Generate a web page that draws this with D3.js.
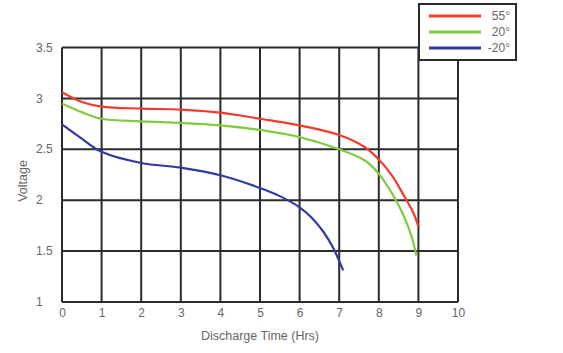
<!DOCTYPE html>
<html>
<head>
<meta charset="utf-8">
<script src="https://cdn.jsdelivr.net/npm/d3@7"></script>
<style>
  body { margin: 0; background: #fff; }
  text { font-family: "Liberation Sans", Arial, sans-serif; fill: #666; }
</style>
</head>
<body>
<svg id="chart"></svg>
<script>
// Discharge curves (hours, voltage)
const hours_55 = [0, 0.5, 1, 2, 3, 4, 5, 6, 7, 7.65, 8, 8.33, 8.67, 8.88, 9];
const volts_55 = [3.06, 2.965, 2.92, 2.90, 2.89, 2.86, 2.80, 2.735, 2.64, 2.52, 2.40, 2.245, 2.02, 1.87, 1.74];
const hours_20 = [0, 0.5, 1, 2, 3, 4, 5, 6, 7, 7.65, 8, 8.33, 8.5, 8.67, 8.83, 8.95];
const volts_20 = [2.95, 2.865, 2.80, 2.775, 2.76, 2.735, 2.69, 2.62, 2.50, 2.39, 2.26, 2.07, 1.95, 1.81, 1.64, 1.455];
const hours_m20 = [0, 0.5, 1, 2, 3, 4, 5, 5.5, 6, 6.3, 6.6, 6.85, 7.1];
const volts_m20 = [2.745, 2.605, 2.475, 2.365, 2.32, 2.245, 2.12, 2.04, 1.93, 1.83, 1.69, 1.53, 1.31];

const series_labels = ["55°", "20°", "-20°"];
const series_colors = ["#f33a2c", "#80cb40", "#2f3b9e"];
const x_ticks = [0, 1, 2, 3, 4, 5, 6, 7, 8, 9, 10];
const y_ticks = [1, 1.5, 2, 2.5, 3, 3.5];

// Build the series list from the arrays above
const series = [
    { label: series_labels[0], color: series_colors[0], points: hours_55.map((h, i) => ({ x: h, y: volts_55[i] })) },
    { label: series_labels[1], color: series_colors[1], points: hours_20.map((h, i) => ({ x: h, y: volts_20[i] })) },
    { label: series_labels[2], color: series_colors[2], points: hours_m20.map((h, i) => ({ x: h, y: volts_m20[i] })) }
];

// Chart dimensions
const width = 563, height = 353;
const margins = { top: 47.5, right: 105, bottom: 51, left: 62 };
const chart_width = width - margins.left - margins.right;
const chart_height = height - margins.top - margins.bottom;

const x_scale = d3.scaleLinear().domain([0, 10]).range([0, chart_width]);
const y_scale = d3.scaleLinear().domain([1, 3.5]).range([chart_height, 0]);

const svg = d3.select("#chart")
    .attr("width", width)
    .attr("height", height);

const g = svg.append("g")
    .attr("transform", `translate(${margins.left},${margins.top})`);

const grid_color = "#2b2b2b";

// Grid lines
g.selectAll(".vgrid")
    .data(x_ticks)
    .enter()
    .append("line")
    .attr("x1", d => x_scale(d))
    .attr("x2", d => x_scale(d))
    .attr("y1", 0)
    .attr("y2", chart_height)
    .attr("stroke", grid_color)
    .attr("stroke-width", 2);

g.selectAll(".hgrid")
    .data(y_ticks)
    .enter()
    .append("line")
    .attr("x1", 0)
    .attr("x2", chart_width)
    .attr("y1", d => y_scale(d))
    .attr("y2", d => y_scale(d))
    .attr("stroke", grid_color)
    .attr("stroke-width", 2);

// Axes (labels only)
const x_axis = d3.axisBottom(x_scale)
    .tickValues(x_ticks)
    .tickSize(0)
    .tickPadding(6)
    .tickFormat(d => String(d));
const y_axis = d3.axisLeft(y_scale)
    .tickValues(y_ticks)
    .tickSize(0)
    .tickFormat(d => String(d));

const gx = g.append("g")
    .attr("transform", `translate(0,${chart_height})`)
    .call(x_axis);
gx.select(".domain").remove();
gx.selectAll("text")
    .attr("font-size", 12)
    .attr("font-family", null)
    .attr("fill", "#666");

const gy = g.append("g").call(y_axis);
gy.select(".domain").remove();
gy.selectAll("text")
    .attr("font-size", 12)
    .attr("font-family", null)
    .attr("fill", "#666")
    .attr("text-anchor", "start")
    .attr("x", 36 - margins.left)
    .attr("dy", "0.3em");

// Curves
const line = d3.line()
    .x(d => x_scale(d.x))
    .y(d => y_scale(d.y))
    .curve(d3.curveCatmullRom.alpha(0.5));

g.selectAll(".curve")
    .data(series)
    .enter()
    .append("path")
    .attr("d", d => line(d.points))
    .attr("fill", "none")
    .attr("stroke", d => d.color)
    .attr("stroke-width", 2.2);

// Axis titles
svg.append("text")
    .attr("x", margins.left + chart_width / 2)
    .attr("y", 340)
    .attr("text-anchor", "middle")
    .attr("font-size", 12.5)
    .text("Discharge Time (Hrs)");

svg.append("text")
    .attr("transform", `translate(27,181) rotate(-90)`)
    .attr("text-anchor", "middle")
    .attr("font-size", 12.5)
    .text("Voltage");

// Legend
const legend = svg.append("g").attr("transform", "translate(419,4)");
legend.append("rect")
    .attr("width", 97)
    .attr("height", 56)
    .attr("fill", "#fff")
    .attr("stroke", grid_color)
    .attr("stroke-width", 2);

const legend_rows = legend.selectAll(".row")
    .data(series)
    .enter()
    .append("g")
    .attr("transform", (d, i) => `translate(0,${12 + i * 16})`);

legend_rows.append("line")
    .attr("x1", 10)
    .attr("x2", 62)
    .attr("stroke", d => d.color)
    .attr("stroke-width", 3);

legend_rows.append("text")
    .attr("x", 91)
    .attr("dy", "0.35em")
    .attr("text-anchor", "end")
    .attr("font-size", 12)
    .text(d => d.label);
</script>
</body>
</html>
